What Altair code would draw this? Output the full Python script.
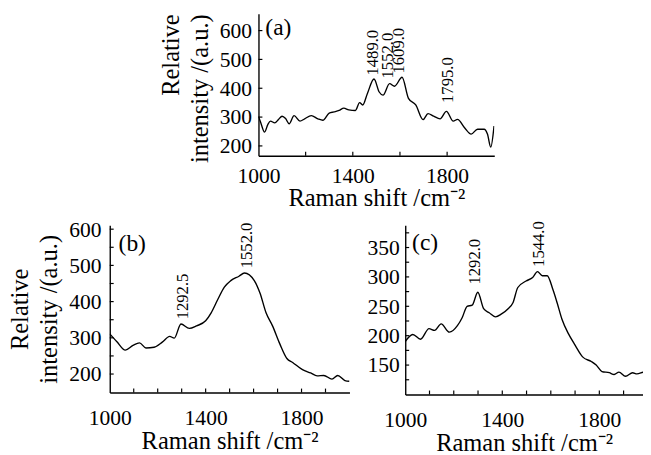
import altair as alt
import pandas as pd

FONT = "Liberation Serif"

# ---------------- data ----------------
a_x = [1000, 1008, 1026, 1040, 1051, 1069, 1085, 1100, 1115, 1130, 1151, 1176, 1196, 1224, 1252,
       1273, 1300, 1320, 1342, 1362, 1383, 1411, 1429, 1442, 1462, 1490, 1512, 1528, 1556, 1577,
       1609, 1636, 1667, 1698, 1719, 1743, 1770, 1797, 1826, 1844, 1874, 1902, 1929, 1957, 1971,
       1985, 1999]
a_y = [302, 285, 248, 275, 286, 280, 292, 303, 295, 277, 305, 286, 294, 305, 294,
       289, 314, 318, 323, 331, 325, 323, 350, 342, 382, 432, 387, 376, 416, 407,
       438, 365, 342, 291, 312, 303, 294, 320, 286, 292, 263, 241, 258, 258, 241,
       196, 269]

b_x = [1000, 1029, 1065, 1097, 1124, 1151, 1185, 1219, 1250, 1269, 1297, 1332, 1362, 1400, 1423,
       1450, 1478, 1505, 1539, 1562, 1603, 1627, 1652, 1679, 1709, 1739, 1763, 1804, 1838, 1865,
       1893, 1927, 1951, 1981, 2000]
b_y = [311, 290, 266, 279, 286, 272, 274, 288, 304, 299, 338, 326, 333, 347, 369,
       405, 440, 458, 470, 479, 458, 423, 369, 333, 284, 243, 232, 212, 203, 195,
       196, 186, 196, 182, 180]

c_x = [1000, 1031, 1063, 1098, 1121, 1148, 1182, 1215, 1235, 1255, 1276, 1299, 1323, 1346, 1372,
       1397, 1424, 1444, 1464, 1498, 1525, 1545, 1565, 1585, 1609, 1626, 1646, 1673, 1700, 1731,
       1767, 1787, 1811, 1841, 1861, 1881, 1908, 1937, 1955, 1982, 2000]
c_y = [190, 202, 194, 212, 209, 220, 206, 217, 231, 250, 252, 274, 246, 239, 232,
       237, 246, 256, 282, 293, 299, 309, 302, 302, 278, 256, 228, 203, 184, 164,
       156, 150, 139, 137, 134, 138, 131, 137, 135, 138, 139]

# peak annotations: text, position of label on x, intensity at label foot
a_peak_text = ["1489.0", "1552.0", "1609.0", "1795.0"]
a_peak_x = [1485, 1548, 1598, 1805]
a_peak_y = [444, 434, 451, 349]

b_peak_text = ["1292.5", "1552.0"]
b_peak_x = [1306, 1571]
b_peak_y = [351, 492]

c_peak_text = ["1292.0", "1544.0"]
c_peak_x = [1290, 1553]
c_peak_y = [287, 317]

# axis labels and tick marks
x_labels = [1000, 1400, 1800]
a_x_label_slots = [1000, 1400, 1800, 2000]   # 2000 slot is kept blank (reserves space only)
a_x_ticks = [1200, 1400, 1600, 1800]
bc_x_ticks = [1100, 1200, 1300, 1400, 1500, 1600, 1700, 1800, 1900]
ab_y_labels = [200, 300, 400, 500, 600]
a_y_ticks = [200, 300, 400, 500, 600]
b_y_ticks = [200, 250, 300, 350, 400, 450, 500, 550, 600]
c_y_labels = [150, 200, 250, 300, 350]
c_y_ticks = [125, 150, 175, 200, 225, 250, 275, 300, 325, 350, 375]

X_TITLE = "Raman shift /cm\u207b\u00b2"
Y_TITLE = ["Relative", "intensity /(a.u.)"]


def panel(xs, ys, ptext, px, py, xticks, ylabels, yticks, xdom, ydom, w, h,
          tag, tag_x, tag_y, ytitle, label_pad_y, label_pad_x, title_anchor=None,
          xvals=None):
    yaxis_kw = dict(values=ylabels, format="d", title=ytitle,
                    labelPadding=label_pad_y, titlePadding=7)
    if title_anchor is not None:
        yaxis_kw["titleAnchor"] = title_anchor
    xaxis_kw = dict(values=x_labels, format="d", title=X_TITLE,
                    labelPadding=label_pad_x, titlePadding=0)
    if xvals is not None:
        xaxis_kw["values"] = xvals
        xaxis_kw["labelExpr"] = ("datum.value == 2000 ? '\u2007\u2007\u2007\u2007' : datum.label")
    x_enc = alt.X("x:Q", scale=alt.Scale(domain=xdom, nice=False, zero=False),
                  axis=alt.Axis(**xaxis_kw))
    y_enc = alt.Y("y:Q", scale=alt.Scale(domain=ydom, nice=False, zero=False),
                  axis=alt.Axis(**yaxis_kw))
    line = alt.Chart(pd.DataFrame({"x": xs, "y": ys})).mark_line(
        color="black", strokeWidth=1.4, clip=True, interpolate="monotone"
    ).encode(x=x_enc, y=y_enc)
    xt = alt.Chart(pd.DataFrame({"x": xticks})).mark_rule(color="black", strokeWidth=1.2).encode(
        x=x_enc, y=alt.value(h), y2=alt.value(h - 4))
    yt = alt.Chart(pd.DataFrame({"y": yticks})).mark_rule(color="black", strokeWidth=1.2).encode(
        y=y_enc, x=alt.value(0), x2=alt.value(4))
    pk = alt.Chart(pd.DataFrame({"x": px, "y": py, "t": ptext})).mark_text(
        angle=270, align="left", baseline="middle", font=FONT, fontSize=17, color="black"
    ).encode(x=x_enc, y=y_enc, text="t:N")
    lab = alt.Chart(pd.DataFrame({"t": [tag]})).mark_text(
        align="left", baseline="middle", font=FONT, fontSize=24, color="black"
    ).encode(x=alt.value(tag_x), y=alt.value(tag_y), text="t:N")
    return alt.layer(line, xt, yt, pk, lab).properties(width=w, height=h)


pa = panel(a_x, a_y, a_peak_text, a_peak_x, a_peak_y, a_x_ticks, ab_y_labels, a_y_ticks,
           [1000, 2000], [166, 658], 241, 145, "(a)", 7, 15, Y_TITLE, 7, 10,
           title_anchor="end", xvals=a_x_label_slots)
pb = panel(b_x, b_y, b_peak_text, b_peak_x, b_peak_y, bc_x_ticks, ab_y_labels, b_y_ticks,
           [1000, 2000], [149, 611], 245, 171, "(b)", 9, 19, Y_TITLE, 9, 16)
pc = panel(c_x, c_y, c_peak_text, c_peak_x, c_peak_y, bc_x_ticks, c_y_labels, c_y_ticks,
           [1000, 1980], [100, 388], 243, 173, "(c)", 7, 18, None, 6, 16)

top = alt.hconcat(pa, spacing=0)
bottom = alt.hconcat(pb, pc, spacing=18)

chart = alt.vconcat(top, bottom, spacing=8, center=True).properties(
    padding={"left": 0, "top": 0, "right": 0, "bottom": 0}
).configure_view(stroke=None).configure_axis(
    labelFont=FONT, titleFont=FONT, labelFontSize=22, titleFontSize=25,
    titleFontWeight="normal", labelColor="black", titleColor="black",
    domainColor="black", domainWidth=1.4, ticks=False, grid=False,
    titleLineHeight=30
).configure_axisX(labelFlush=False)

chart.save("out.html", embed_options={"renderer": "svg", "actions": False})
